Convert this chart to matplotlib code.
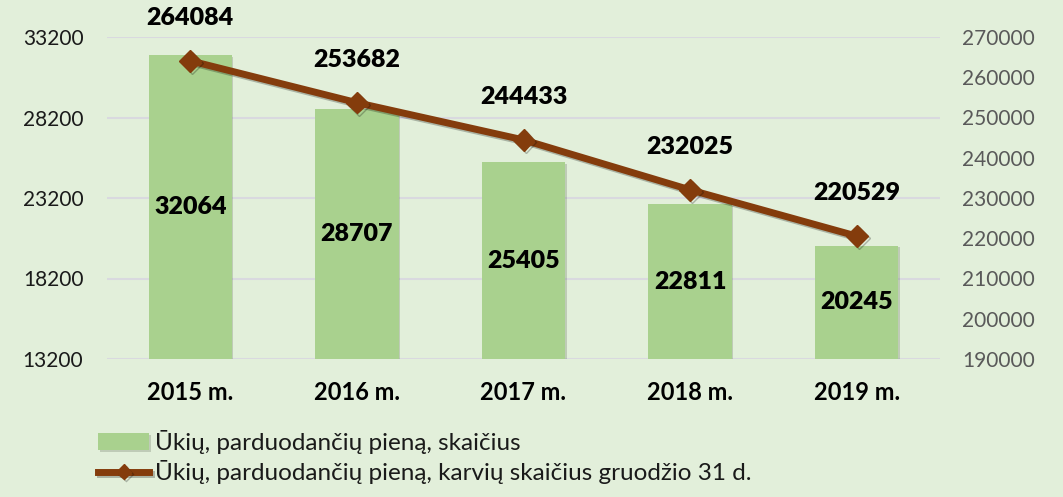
import matplotlib
matplotlib.use("Agg")
import matplotlib.pyplot as plt
import matplotlib.patheffects as pe
import numpy as np

plt.rcParams['font.family'] = ['Lato', 'DejaVu Sans']

# === DONNÉES ===
years = ["2015 m.", "2016 m.", "2017 m.", "2018 m.", "2019 m."]
farms = [32064, 28707, 25405, 22811, 20245]
cows = [264084, 253682, 244433, 232025, 220529]
left_ticks = [13200, 18200, 23200, 28200, 33200]
right_ticks = [190000, 200000, 210000, 220000, 230000, 240000, 250000, 260000, 270000]

label_bars = "Ūkių, parduodančių pieną, skaičius"
label_line = "Ūkių, parduodančių pieną, karvių skaičius gruodžio 31 d."

BG = "#E2EFDA"
BAR = "#A9D18E"
LINE = "#843C0C"
GRID = "#D9D9DF"

fig = plt.figure(figsize=(10.63, 4.97), dpi=100, facecolor=BG)
ax = fig.add_axes([107 / 1063, 1 - 359 / 497, 833 / 1063, 322 / 497])
ax.set_facecolor(BG)

x = np.arange(len(years))
bars = ax.bar(x, farms, width=0.5, color=BAR, zorder=2, label=label_bars,
              path_effects=[pe.SimplePatchShadow(offset=(1, -1), alpha=0.2), pe.Normal()])
ax.set_ylim(left_ticks[0], left_ticks[-1])
ax.set_yticks(left_ticks)
ax.set_xlim(-0.5, len(years) - 0.5)
ax.set_xticks(x)
ax.set_xticklabels(years, fontsize=17, fontweight='bold')
ax.tick_params(axis='y', length=0, pad=17, labelsize=15, labelcolor='#1a1a1a')
ax.tick_params(axis='x', length=0, pad=16)
ax.grid(axis='y', color=GRID, linewidth=1.5, zorder=0)
ax.set_axisbelow(True)
for s in ax.spines.values():
    s.set_visible(False)

ax.bar_label(bars, labels=[str(v) for v in farms], label_type='center',
             fontsize=18, fontweight='heavy', color='black')

ax2 = ax.twinx()
ln, = ax2.plot(x, cows, color=LINE, linewidth=5, marker='D', markersize=11,
               zorder=3, label=label_line,
               path_effects=[pe.SimpleLineShadow(offset=(1.5, -1.5), alpha=0.25), pe.Normal()])
ax2.set_ylim(right_ticks[0], right_ticks[-1])
ax2.set_yticks(right_ticks)
ax2.tick_params(axis='y', length=0, pad=16, labelsize=15, labelcolor='#595959')
for s in ax2.spines.values():
    s.set_visible(False)

for xi, v in zip(x, cows):
    ax2.annotate(str(v), (xi, v), xytext=(0, 31), textcoords='offset points',
                 ha='center', va='center', fontsize=18, fontweight='heavy')

fig.legend(handles=[bars, ln], labels=[label_bars, label_line],
           loc='upper left', bbox_to_anchor=(86 / 1063, 1 - 418 / 497),
           frameon=False, fontsize=17.5, handlelength=2.1, handletextpad=0.25,
           labelspacing=0.25, borderpad=0, markerscale=0.7, labelcolor='#1a1a1a')

fig.savefig("out.png", dpi=100, facecolor=BG)
